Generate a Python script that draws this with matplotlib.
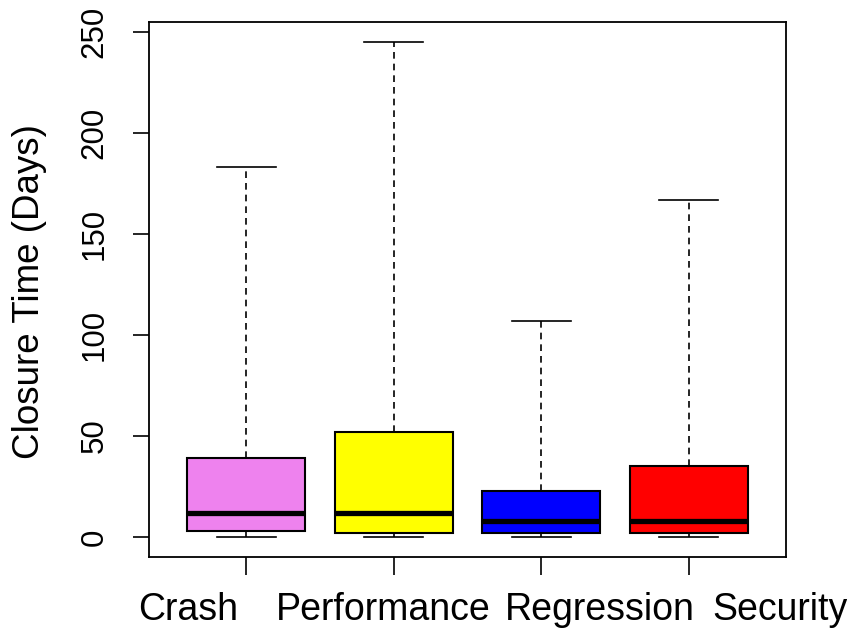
import matplotlib
matplotlib.use("Agg")
import matplotlib.pyplot as plt
import matplotlib.transforms as mtransforms

categories = ["Crash", "Performance", "Regression", "Security"]
whisker_low = [0, 0, 0, 0]
q1 = [3, 2, 2, 2]
medians = [12, 12, 8, 8]
q3 = [39, 52, 23, 35]
whisker_high = [183, 245, 107, 167]
colors = ["violet", "yellow", "blue", "red"]

plt.rcParams["font.family"] = ["Liberation Sans", "DejaVu Sans"]

stats = []
for i, name in enumerate(categories):
    stats.append({
        "label": name, "whislo": whisker_low[i], "q1": q1[i], "med": medians[i],
        "q3": q3[i], "whishi": whisker_high[i], "fliers": [],
    })

fig = plt.figure(figsize=(8.47, 6.28), dpi=100)
ax = fig.add_axes([149 / 847, 71 / 628, 637 / 847, 535 / 628])

bp = ax.bxp(stats, positions=range(1, 5), widths=0.8, patch_artist=True,
            showfliers=False,
            boxprops=dict(edgecolor="black", linewidth=1.5),
            medianprops=dict(color="black", linewidth=3.8, solid_capstyle="butt"),
            whiskerprops=dict(color="black", linewidth=1.2, linestyle=(0, (4, 3))),
            capprops=dict(color="black", linewidth=1.2),
            capwidths=0.4)
for patch, c in zip(bp["boxes"], colors):
    patch.set_facecolor(c)

ax.set_xlim(0.34, 4.66)
ax.set_ylim(-9.8, 254.8)
ax.set_yticks([0, 50, 100, 150, 200, 250])
ax.set_xticks(range(1, 5))
ax.set_xticklabels([])

ax.tick_params(axis="y", length=11.5, width=1.2, pad=17, labelsize=22.5,
               labelrotation=90)
for lbl in ax.get_yticklabels():
    lbl.set_va("center")
ax.tick_params(axis="x", length=13, width=1.2)

# category names sit spread along the bottom, not centred on the ticks
label_x = [0.607, 1.93, 3.40, 4.62]
trans = mtransforms.blended_transform_factory(ax.transData, ax.transAxes)
for xpos, name in zip(label_x, categories):
    ax.text(xpos, -0.1178, name, transform=trans, ha="center", va="baseline",
            fontsize=27, clip_on=False)

ax.set_ylabel("Closure Time (Days)", fontsize=26.5, va="center")
ax.yaxis.set_label_coords(-0.187, 0.497)

for s in ax.spines.values():
    s.set_linewidth(1.3)

fig.savefig("out.png", dpi=100)
